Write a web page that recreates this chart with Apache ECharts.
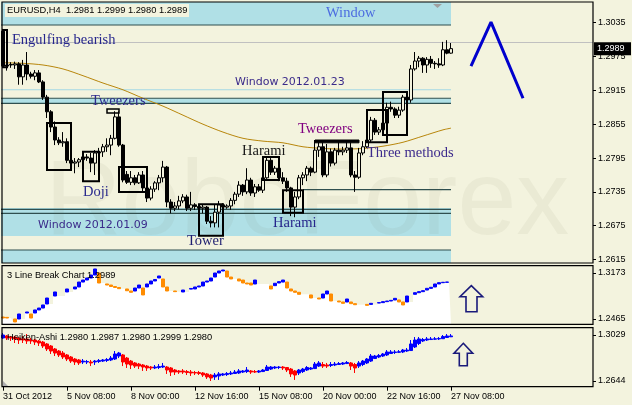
<!DOCTYPE html>
<html><head><meta charset="utf-8">
<script src="https://cdn.jsdelivr.net/npm/echarts@6/dist/echarts.min.js"></script>
<style>html,body{margin:0;padding:0;background:#F3F3DE}#c{width:632px;height:405px}</style>
</head><body><div id="c"></div>
<script>
// ---------------- DATA ----------------
const symbolName = 'EURUSD,H4';
const priceTicks = [1.2615,1.2675,1.2735,1.2795,1.2855,1.2915,1.2975,1.3035];
const lbTicks = [1.2465,1.3173];
const haTicks = [1.2644,1.3029];
const xTickLabels = ['31 Oct 2012','5 Nov 08:00','8 Nov 00:00','12 Nov 16:00','15 Nov 08:00','20 Nov 00:00','22 Nov 16:00','27 Nov 08:00'];
const lbLegendValue = 1.2989;
const haLegendValues = [1.2980,1.2987,1.2980,1.2999,1.2980];

const openP = [1.3020,1.2960,1.2961,1.2960,1.2962,1.2939,1.2960,1.2944,1.2940,1.2946,
1.2930,1.2903,1.2877,1.2850,1.2827,1.2822,1.2824,1.2791,1.2786,1.2788,
1.2792,1.2797,1.2795,1.2786,1.2804,1.2806,1.2815,1.2818,1.2830,1.2868,
1.2818,1.2766,1.2752,1.2760,1.2751,1.2765,1.2742,1.2724,1.2740,1.2751,
1.2760,1.2779,1.2717,1.2706,1.2710,1.2719,1.2726,1.2706,1.2712,1.2709,
1.2706,1.2708,1.2683,1.2680,1.2699,1.2712,1.2708,1.2710,1.2720,1.2731,
1.2747,1.2735,1.2756,1.2733,1.2744,1.2738,1.2760,1.2791,1.2770,1.2777,
1.2760,1.2754,1.2742,1.2708,1.2726,1.2760,1.2765,1.2777,1.2770,1.2809,
1.2815,1.2765,1.2806,1.2786,1.2809,1.2806,1.2809,1.2813,1.2765,1.2761,
1.2804,1.2815,1.2827,1.2862,1.2841,1.2845,1.2857,1.2885,1.2882,1.2871,
1.2880,1.2903,1.2898,1.2953,1.2967,1.2972,1.2960,1.2970,1.2963,1.2962,
1.2960,1.2987,1.2981];
const highP = [1.3024,1.2964,1.2965,1.2966,1.2965,1.2969,1.2983,1.2948,1.2951,1.2951,
1.2933,1.2907,1.2880,1.2860,1.2832,1.2841,1.2830,1.2795,1.2795,1.2795,
1.2800,1.2802,1.2804,1.2809,1.2813,1.2820,1.2830,1.2836,1.2878,1.2878,
1.2820,1.2772,1.2772,1.2765,1.2770,1.2772,1.2744,1.2745,1.2754,1.2765,
1.2790,1.2781,1.2722,1.2717,1.2728,1.2731,1.2730,1.2735,1.2715,1.2713,
1.2713,1.2710,1.2692,1.2713,1.2719,1.2715,1.2713,1.2724,1.2735,1.2754,
1.2749,1.2777,1.2760,1.2749,1.2749,1.2763,1.2797,1.2795,1.2781,1.2783,
1.2770,1.2760,1.2744,1.2735,1.2765,1.2770,1.2781,1.2780,1.2827,1.2823,
1.2823,1.2820,1.2812,1.2813,1.2827,1.2815,1.2825,1.2823,1.2772,1.2813,
1.2825,1.2836,1.2868,1.2866,1.2850,1.2862,1.2893,1.2895,1.2885,1.2886,
1.2907,1.2905,1.2960,1.2983,1.2976,1.2974,1.2974,1.2976,1.2967,1.2972,
1.3001,1.3004,1.2999];
const lowP = [1.2955,1.2950,1.2955,1.2953,1.2925,1.2925,1.2933,1.2936,1.2933,1.2928,
1.2898,1.2866,1.2841,1.2818,1.2818,1.2815,1.2786,1.2783,1.2768,1.2779,
1.2786,1.2790,1.2770,1.2765,1.2797,1.2797,1.2806,1.2800,1.2828,1.2815,
1.2752,1.2749,1.2747,1.2747,1.2749,1.2735,1.2717,1.2720,1.2735,1.2738,
1.2752,1.2708,1.2697,1.2701,1.2704,1.2715,1.2701,1.2701,1.2703,1.2703,
1.2697,1.2678,1.2672,1.2672,1.2672,1.2703,1.2705,1.2703,1.2713,1.2726,
1.2728,1.2731,1.2728,1.2726,1.2735,1.2733,1.2758,1.2765,1.2765,1.2754,
1.2749,1.2735,1.2692,1.2690,1.2722,1.2747,1.2754,1.2763,1.2768,1.2797,
1.2761,1.2761,1.2780,1.2782,1.2800,1.2800,1.2804,1.2761,1.2735,1.2758,
1.2800,1.2813,1.2823,1.2836,1.2836,1.2840,1.2845,1.2877,1.2866,1.2866,
1.2877,1.2891,1.2893,1.2950,1.2956,1.2946,1.2946,1.2955,1.2953,1.2955,
1.2958,1.2979,1.2980];
const closeP = [1.2958,1.2958,1.2960,1.2962,1.2939,1.2960,1.2944,1.2940,1.2946,1.2930,
1.2903,1.2877,1.2850,1.2827,1.2822,1.2824,1.2791,1.2786,1.2788,1.2792,
1.2797,1.2795,1.2786,1.2804,1.2806,1.2815,1.2818,1.2830,1.2868,1.2818,
1.2756,1.2752,1.2760,1.2751,1.2765,1.2742,1.2724,1.2740,1.2751,1.2760,
1.2779,1.2717,1.2706,1.2710,1.2719,1.2726,1.2706,1.2712,1.2709,1.2706,
1.2708,1.2683,1.2680,1.2699,1.2712,1.2708,1.2710,1.2720,1.2731,1.2747,
1.2735,1.2756,1.2733,1.2744,1.2738,1.2760,1.2791,1.2770,1.2777,1.2760,
1.2754,1.2742,1.2708,1.2726,1.2760,1.2765,1.2777,1.2770,1.2809,1.2815,
1.2765,1.2806,1.2786,1.2809,1.2806,1.2809,1.2813,1.2765,1.2761,1.2804,
1.2815,1.2827,1.2862,1.2841,1.2845,1.2857,1.2885,1.2882,1.2871,1.2880,
1.2903,1.2898,1.2953,1.2967,1.2972,1.2960,1.2970,1.2963,1.2962,1.2960,
1.2987,1.2981,1.2989];

// moving average read at every 5th bar
const maIdx = [0,5,10,15,20,25,30,35,40,45,50,55,60,65,70,75,80,85,90,95,100,105,110,112];
const maVal = [1.2964,1.2963,1.2960,1.2953,1.2941,1.2928,1.2916,1.2901,1.2887,1.2871,1.2855,1.2841,1.2830,1.2825,1.2822,1.2815,1.2812,1.2811,1.2812,1.2816,1.2823,1.2834,1.2845,1.2848];

// drawn forecast zig-zag
const forecastIdx = [117,122,130];
const forecastVal = [1.2958,1.3036,1.2901];

// 3 Line Break blocks
const lbIdx = [0,1,3,4,6,7,8,9,10,11,13,16,18,19,20,21,22,23,24,26,27,28,29,31,32,33,34,35,36,37,38,39,40,41,43,45,47,48,49,50,51,52,53,54,55,56,57,59,60,61,62,63,67,68,69,70,71,72,73,74,77,79,80,81,82,84,85,86,87,88,91,92,94,95,96,97,98,99,100,101,103,104,105,106,107,108,109,110,111];
const lbOpen = [1.2496,1.2490,1.2465,1.2465,1.2557,1.2542,1.2557,1.2604,1.2634,1.2696,1.2819,1.2881,1.2927,1.2958,1.3034,1.3065,1.3096,1.3142,1.3173,1.3004,1.2988,1.2965,1.2950,1.2927,1.2896,1.2896,1.2942,1.2942,1.2958,1.3004,1.3050,1.3096,1.3081,1.2958,1.2896,1.2881,1.2925,1.2927,1.2958,1.2973,1.3034,1.3050,1.3111,1.3173,1.3204,1.3204,1.3111,1.3081,1.3065,1.3019,1.3019,1.3004,1.2973,1.2978,1.3019,1.3034,1.3034,1.2927,1.2896,1.2876,1.2835,1.2788,1.2788,1.2850,1.2850,1.2742,1.2727,1.2727,1.2727,1.2701,1.2690,1.2690,1.2711,1.2717,1.2732,1.2742,1.2758,1.2758,1.2727,1.2727,1.2845,1.2870,1.2886,1.2911,1.2937,1.2958,1.3004,1.3024,1.3030];
const lbClose = [1.2480,1.2480,1.2419,1.2542,1.2573,1.2480,1.2604,1.2634,1.2681,1.2788,1.2881,1.2927,1.2958,1.3034,1.3065,1.3096,1.3142,1.3235,1.3019,1.2988,1.2965,1.2950,1.2932,1.2900,1.2876,1.2942,1.2988,1.2835,1.3004,1.3050,1.3073,1.3127,1.2958,1.2896,1.2886,1.2911,1.2935,1.2958,1.2973,1.3034,1.3050,1.3096,1.3173,1.3204,1.3219,1.3111,1.3081,1.3050,1.3019,1.3004,1.2988,1.3065,1.2927,1.3015,1.3040,1.3065,1.2942,1.2896,1.2876,1.2845,1.2788,1.2773,1.2850,1.2896,1.2742,1.2727,1.2706,1.2773,1.2701,1.2685,1.2675,1.2706,1.2717,1.2732,1.2742,1.2752,1.2783,1.2727,1.2681,1.2819,1.2870,1.2886,1.2901,1.2937,1.2953,1.3004,1.3024,1.3030,1.3034];

// Heiken-Ashi
const haOpen = [1.3004,1.3021,1.3012,1.3012,1.3004,1.2996,1.2996,1.2987,1.2987,1.2979,
1.2970,1.2954,1.2937,1.2912,1.2895,1.2878,1.2862,1.2845,1.2828,1.2820,
1.2803,1.2803,1.2803,1.2803,1.2807,1.2811,1.2816,1.2820,1.2828,1.2853,
1.2862,1.2836,1.2811,1.2795,1.2786,1.2778,1.2769,1.2761,1.2753,1.2757,
1.2761,1.2761,1.2753,1.2736,1.2728,1.2728,1.2723,1.2719,1.2715,1.2715,
1.2711,1.2703,1.2694,1.2678,1.2686,1.2694,1.2698,1.2703,1.2707,1.2711,
1.2719,1.2723,1.2728,1.2723,1.2719,1.2723,1.2732,1.2744,1.2753,1.2757,
1.2761,1.2757,1.2744,1.2728,1.2711,1.2723,1.2736,1.2744,1.2748,1.2769,
1.2782,1.2778,1.2774,1.2778,1.2782,1.2786,1.2790,1.2795,1.2782,1.2769,
1.2782,1.2795,1.2811,1.2832,1.2845,1.2853,1.2862,1.2874,1.2883,1.2884,
1.2887,1.2895,1.2899,1.2929,1.2958,1.2979,1.2987,1.2991,1.2994,1.2996,
1.2998,1.3008,1.3014];
const haClose = [1.3029,1.3004,1.3004,1.2996,1.2987,1.2987,1.2979,1.2979,1.2970,1.2962,
1.2937,1.2912,1.2895,1.2878,1.2862,1.2845,1.2828,1.2811,1.2803,1.2795,
1.2811,1.2807,1.2795,1.2811,1.2816,1.2820,1.2824,1.2836,1.2870,1.2878,
1.2803,1.2786,1.2778,1.2769,1.2769,1.2761,1.2753,1.2753,1.2761,1.2765,
1.2769,1.2736,1.2719,1.2719,1.2719,1.2719,1.2715,1.2711,1.2711,1.2707,
1.2694,1.2678,1.2669,1.2694,1.2703,1.2703,1.2707,1.2711,1.2719,1.2728,
1.2728,1.2736,1.2719,1.2719,1.2728,1.2736,1.2761,1.2761,1.2761,1.2761,
1.2753,1.2736,1.2703,1.2694,1.2736,1.2744,1.2757,1.2753,1.2786,1.2795,
1.2769,1.2769,1.2782,1.2786,1.2790,1.2795,1.2799,1.2769,1.2753,1.2795,
1.2811,1.2828,1.2853,1.2853,1.2858,1.2870,1.2887,1.2887,1.2887,1.2889,
1.2903,1.2903,1.2954,1.2987,1.2996,1.2991,1.2996,1.2996,1.2997,1.3000,
1.3016,1.3021,1.3021];
const haHigh = [1.3046,1.3029,1.3021,1.3021,1.3012,1.3021,1.3037,1.3004,1.2996,1.2987,
1.2979,1.2962,1.2945,1.2920,1.2903,1.2895,1.2870,1.2853,1.2836,1.2828,
1.2828,1.2820,1.2820,1.2820,1.2828,1.2828,1.2836,1.2853,1.2895,1.2887,
1.2870,1.2845,1.2820,1.2803,1.2795,1.2786,1.2778,1.2769,1.2778,1.2786,
1.2795,1.2769,1.2761,1.2744,1.2736,1.2744,1.2736,1.2736,1.2728,1.2728,
1.2719,1.2711,1.2703,1.2711,1.2719,1.2711,1.2719,1.2728,1.2736,1.2744,
1.2736,1.2761,1.2736,1.2736,1.2736,1.2744,1.2778,1.2769,1.2769,1.2769,
1.2769,1.2761,1.2753,1.2736,1.2744,1.2753,1.2769,1.2761,1.2803,1.2811,
1.2803,1.2795,1.2803,1.2803,1.2803,1.2803,1.2811,1.2803,1.2795,1.2811,
1.2820,1.2836,1.2870,1.2862,1.2870,1.2878,1.2903,1.2903,1.2903,1.2903,
1.2912,1.2920,1.2987,1.3012,1.3012,1.3004,1.3012,1.3012,1.3012,1.3012,
1.3029,1.3037,1.3037];
const haLow = [1.2996,1.2987,1.2979,1.2962,1.2954,1.2962,1.2954,1.2954,1.2945,1.2937,
1.2920,1.2895,1.2870,1.2853,1.2845,1.2828,1.2811,1.2795,1.2778,1.2778,
1.2786,1.2786,1.2769,1.2778,1.2795,1.2803,1.2803,1.2811,1.2820,1.2836,
1.2769,1.2753,1.2744,1.2753,1.2744,1.2728,1.2728,1.2736,1.2744,1.2744,
1.2753,1.2703,1.2686,1.2694,1.2703,1.2703,1.2694,1.2686,1.2694,1.2694,
1.2678,1.2661,1.2644,1.2653,1.2653,1.2686,1.2686,1.2694,1.2703,1.2703,
1.2711,1.2711,1.2703,1.2711,1.2711,1.2719,1.2728,1.2736,1.2744,1.2744,
1.2736,1.2719,1.2678,1.2653,1.2694,1.2711,1.2728,1.2736,1.2744,1.2761,
1.2753,1.2753,1.2761,1.2769,1.2778,1.2778,1.2786,1.2736,1.2711,1.2753,
1.2769,1.2786,1.2803,1.2828,1.2836,1.2845,1.2853,1.2870,1.2870,1.2878,
1.2878,1.2887,1.2895,1.2920,1.2945,1.2970,1.2979,1.2987,1.2987,1.2987,
1.2996,1.3004,1.3012];

// drawn objects on the price chart (price levels and pattern boxes)
const bandZones = [[1.3031, 'top'], [1.2892, 1.2901], [1.26568, 1.27064], ['bottom', 1.2632]];
const lightLevel = 1.2916;
const darkLevels = [1.3031, 1.2901, 1.2892, 1.27041, 1.26970, 1.2632];
const partialLevel = {from: 75, price: 1.2739};
const objectsEndIdx = 112;
// [fromIdx, toIdx, topPrice, bottomPrice]
const patternBoxes = [[0,1,1.3022,1.2956],[11,17,1.2857,1.2774],[20,24,1.2806,1.2754],[29,36,1.2779,1.2735],[49,55,1.2713,1.2657],[65,69,1.2797,1.2756],[70,75,1.2738,1.2698],[91,96,1.2880,1.2823],[95,101,1.2912,1.2836]];
const tweezerBars = [[26,29,1.2882,1.2875],[78,89,1.2827,1.2822]];

// ---------------- CHART ----------------
const BG = '#F3F3DE';
const N = 148;
const MAIN_MAX = 1.30717, MAIN_MIN = 1.26089;
const LB_MAX = 1.32854, LB_MIN = 1.23834;
const HA_MAX = 1.30901, HA_MIN = 1.25963;

const MON = ['Jan','Feb','Mar','Apr','May','Jun','Jul','Aug','Sep','Oct','Nov','Dec'];
const cats = [];
let t = Date.UTC(2012, 9, 31, 16);
while (cats.length < N) {
  const d = new Date(t);
  const wd = d.getUTCDay();
  if (wd !== 0 && wd !== 6) cats.push(d.getUTCDate() + ' ' + MON[d.getUTCMonth()] + ' ' + String(d.getUTCHours()).padStart(2,'0') + ':00');
  t += 4 * 3600 * 1000;
}
const nBars = openP.length;
const mainData = openP.map((o, i) => [o, closeP[i], lowP[i], highP[i]]);
const maData = new Array(nBars).fill('-');
maIdx.forEach((k, j) => { maData[k] = maVal[j]; });
const fcData = new Array(N).fill('-');
forecastIdx.forEach((k, j) => { fcData[k] = forecastVal[j]; });
const lbData = new Array(nBars).fill(null).map(() => ['-','-','-','-']);
const lbFloor = new Array(nBars).fill('-');
lbIdx.forEach((k, j) => {
  const o = lbOpen[j], c = lbClose[j];
  lbData[k] = [o, c, Math.min(o, c), Math.max(o, c)];
});
let carry = '-';
for (let i = 0; i < nBars; i++) {
  const j = lbIdx.indexOf(i);
  if (j >= 0) carry = Math.min(lbOpen[j], lbClose[j]);
  lbFloor[i] = carry;
}
const haData = haOpen.map((o, i) => [o, haClose[i], haLow[i], haHigh[i]]);

const BAND = '#B0E0E6', DARK = '#2F4F4F';
const val = v => v === 'top' ? MAIN_MAX : (v === 'bottom' ? MAIN_MIN : v);
const levelItems = [];
bandZones.forEach(z => levelItems.push([{yAxis: val(z[0]), itemStyle:{color: BAND}}, {yAxis: val(z[1]), xAxis: objectsEndIdx}]));
levelItems.push([{yAxis: lightLevel - 0.00009, itemStyle:{color:'#A4D8E4'}}, {yAxis: lightLevel + 0.00009, xAxis: objectsEndIdx}]);
darkLevels.forEach(p => levelItems.push([{yAxis: p - 0.0001, itemStyle:{color: DARK}}, {yAxis: p + 0.0001, xAxis: objectsEndIdx}]));
levelItems.push([{xAxis: partialLevel.from, yAxis: partialLevel.price - 0.0001, itemStyle:{color: DARK}}, {yAxis: partialLevel.price + 0.0001, xAxis: objectsEndIdx}]);

const boxItems = [];
patternBoxes.forEach(b => boxItems.push([{xAxis: b[0], yAxis: b[2], itemStyle:{color:'rgba(0,0,0,0)', borderColor:'#000', borderWidth:2}}, {xAxis: b[1], yAxis: b[3]}]));
boxItems.push([{xAxis: tweezerBars[0][0], yAxis: tweezerBars[0][2], itemStyle:{color:'rgba(0,0,0,0)', borderColor:'#000', borderWidth:1.5}}, {xAxis: tweezerBars[0][1], yAxis: tweezerBars[0][3]}]);
boxItems.push([{xAxis: tweezerBars[1][0], yAxis: tweezerBars[1][2], itemStyle:{color:'#000', borderColor:'#000', borderWidth:1}}, {xAxis: tweezerBars[1][1], yAxis: tweezerBars[1][3]}]);

const tickShow = (idx) => idx % 16 === 0 && idx <= 112;
const FONT = 'Liberation Sans';
function yAx(gi, min, max, ticks) {
  return {type:'value', gridIndex: gi, position:'right', min, max,
    splitLine:{show:false}, axisLine:{show:false},
    axisTick:{show:true, length:3, lineStyle:{color:'#000', width:1}, customValues: ticks},
    axisLabel:{show:true, margin:5, color:'#000', fontFamily: FONT, fontSize:9, customValues: ticks, formatter: v => Number(v).toFixed(4)}};
}
function xAx(gi, showLabels) {
  return {type:'category', gridIndex: gi, data: cats, boundaryGap: true,
    axisLine:{show:false}, splitLine:{show:false},
    axisTick:{show: showLabels, alignWithLabel: true, interval: tickShow, length: 4, lineStyle:{color:'#000'}},
    axisLabel:{show: showLabels, interval: tickShow, align:'left', margin: 5, color:'#000', fontFamily: FONT, fontSize: 9,
      formatter: (v, i) => xTickLabels[Math.round(i / 16)]}};
}

const chart = echarts.init(document.getElementById('c'), null, {renderer:'canvas'});
const option = {
  animation: false,
  backgroundColor: BG,
  grid: [
    {left:1, width:592, top:2, height:261, outerBoundsMode:'none'},
    {left:1, width:592, top:265.7, height:58.6, outerBoundsMode:'none'},
    {left:1, width:592, top:327.7, height:59, outerBoundsMode:'none'}
  ],
  xAxis: [xAx(0, false), xAx(1, false), xAx(2, true)],
  yAxis: [yAx(0, MAIN_MIN, MAIN_MAX, priceTicks), yAx(1, LB_MIN, LB_MAX, lbTicks), yAx(2, HA_MIN, HA_MAX, haTicks)],
  series: [
    {type:'line', xAxisIndex:0, yAxisIndex:0, data:[], z:1, silent:true,
     markArea:{silent:true, z:1, label:{show:false}, data: levelItems},
     markLine:{silent:true, z:2, symbol:['none','none'], label:{show:false}, lineStyle:{color:'#C0C0C0', width:1, type:'solid'}, data:[{yAxis: closeP[nBars-1]}]}},
    {type:'line', xAxisIndex:0, yAxisIndex:0, data: maData, connectNulls:true, showSymbol:false, smooth:0.3, silent:true,
     lineStyle:{color:'#B8860B', width:1}, z:3},
    {type:'candlestick', xAxisIndex:0, yAxisIndex:0, data: mainData, barWidth:3, silent:true, z:4,
     itemStyle:{color: BG, color0:'#000', borderColor:'#000', borderColor0:'#000', borderWidth:1}},
    {type:'line', xAxisIndex:0, yAxisIndex:0, data: fcData, connectNulls:true, showSymbol:false, silent:true,
     lineStyle:{color:'#0000CD', width:3}, z:5},
    {type:'line', xAxisIndex:0, yAxisIndex:0, data:[], z:6, silent:true,
     markArea:{silent:true, z:6, label:{show:false}, data: boxItems}},
    {type:'line', xAxisIndex:1, yAxisIndex:1, data: lbFloor, step:'middle', showSymbol:false, silent:true,
     lineStyle:{width:0, opacity:0}, areaStyle:{color:'#FFFFFF', opacity:1, origin:'start'}, z:2},
    {type:'candlestick', xAxisIndex:1, yAxisIndex:1, data: lbData, barWidth:3.5, silent:true, z:3,
     itemStyle:{color:'#0000FF', color0:'#FF8C00', borderColor:'#0000FF', borderColor0:'#FF8C00', borderWidth:1}},
    {type:'candlestick', xAxisIndex:2, yAxisIndex:2, data: haData, barWidth:3, silent:true, z:3,
     itemStyle:{color:'#0000FF', color0:'#FF0000', borderColor:'#0000FF', borderColor0:'#FF0000', borderWidth:1}}
  ]
};
chart.setOption(option);

// annotations, frames and labels
const last = nBars - 1;
const py = chart.convertToPixel({yAxisIndex: 0}, closeP[last]);
const serif = s => s + 'px "Liberation Serif"';
const txt = (text, x, y, font, fill, z) => ({type:'text', x, y, z: z || 10, silent:true,
  style:{text, font, fill, verticalAlign:'middle', align:'left'}});
const labels = [
  ['Engulfing bearish', 12, 40, '#26268c'],
  ['Tweezers', 91, 101, '#2e2a8c'],
  ['Doji', 83, 192, '#2a2a8c'],
  ['Tower', 187, 241, '#1e1e70'],
  ['Harami', 242, 151, '#1a1a1a'],
  ['Harami', 273, 223, '#26268c'],
  ['Tweezers', 298, 129, '#800080'],
  ['Three methods', 367, 153, '#3c2a8c'],
  ['Window', 326, 13, '#4b6be0']
];
const g = [];
g.push({type:'text', x:45, y:205, z:2, silent:true, style:{text:'RoboForex', font:'106px "Liberation Sans"', fill:'rgba(110,110,60,0.06)', verticalAlign:'middle'}});
labels.forEach(l => g.push(txt(l[0], l[1], l[2], serif(14.5), l[3])));
g.push(txt('Window 2012.01.23', 235, 82, '11px "DejaVu Sans"', '#3a2a8a'));
g.push(txt('Window 2012.01.09', 38, 225, '11px "DejaVu Sans"', '#3a2a8a'));
g.push({type:'rect', z:10, silent:true, shape:{x:5, y:4, width:184, height:13}, style:{fill: BG}});
g.push(txt(symbolName + '  ' + [openP[last], highP[last], lowP[last], closeP[last]].map(v => v.toFixed(4)).join(' '), 7, 10.5, '9.3px "Liberation Sans"', '#000'));
g.push(txt('3 Line Break Chart ' + lbLegendValue.toFixed(4), 7, 275, '9.3px "Liberation Sans"', '#000'));
g.push(txt('Heiken-Ashi ' + haLegendValues.map(v => v.toFixed(4)).join(' '), 7, 337, '9.3px "Liberation Sans"', '#000'));
// frames
[[2, 2, 591, 261], [2, 265.7, 591, 58.6], [2, 327.7, 591, 59]].forEach(r => g.push({type:'rect', z:12, silent:true,
  shape:{x:r[0], y:r[1], width:r[2], height:r[3]}, style:{fill:'none', stroke:'#000', lineWidth:1.2}}));
// current price tag
g.push({type:'rect', z:13, silent:true, shape:{x:594, y:py - 6.5, width:37, height:13}, style:{fill:'#000'}});
g.push(txt(closeP[last].toFixed(4), 597, py, '9px "Liberation Sans"', '#fff', 14));
// arrows
g.push({type:'polygon', z:10, silent:true, shape:{points:[[471.3,285.7],[482.7,296.7],[477,296.7],[477,311.7],[466,311.7],[466,296.7],[460,296.7]]}, style:{fill:'none', stroke:'#1a1a7a', lineWidth:1.6}});
g.push({type:'polygon', z:10, silent:true, shape:{points:[[463.3,343.3],[472.7,353.3],[467.3,353.3],[467.3,365.7],[459.3,365.7],[459.3,353.3],[454,353.3]]}, style:{fill:'none', stroke:'#1a1a7a', lineWidth:1.6}});
// small markers
g.push({type:'polygon', z:10, silent:true, shape:{points:[[433,4],[442,4],[437.5,8]]}, style:{fill:'#A0A0A0'}});
g.push({type:'polygon', z:10, silent:true, shape:{points:[[3,381],[3,386],[8,386]]}, style:{fill:'#B0B0B0'}});
chart.setOption({graphic: g});
</script>
</body></html>
